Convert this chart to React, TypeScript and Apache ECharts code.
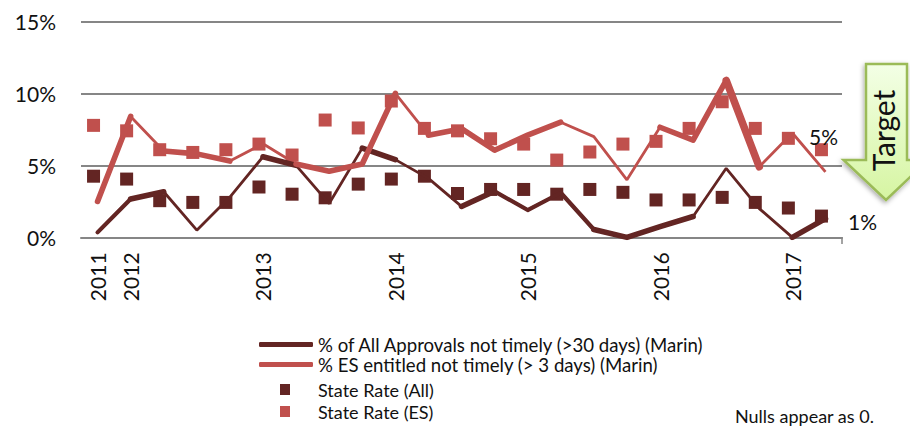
import React, { useEffect, useRef } from "react";
import * as echarts from "echarts";

const categories = ["2011","2012","","","","2013","","","","2014","","","","2015","","","","2016","","","","2017",""];
const tickLabels = [0, 5, 10, 15];
const allMarin = [0.35,2.66,3.17,0.5,2.8,5.6,5.0,2.35,6.2,5.4,4.1,2.15,3.2,1.9,3.1,0.55,0,0.75,1.45,4.8,2.0,0,1.3];
const esMarin = [2.5,8.4,6.0,5.8,5.3,6.5,5.1,4.6,5.1,10.0,7.1,7.55,6.05,7.1,8.0,7.0,4.0,7.65,6.75,10.9,4.9,7.25,4.55];
const stateAll = [4.25,4.05,2.55,2.43,2.43,3.5,3.0,2.75,3.7,4.05,4.25,3.05,3.33,3.33,3.0,3.33,3.13,2.6,2.6,2.78,2.43,2.04,1.48];
const stateEs = [7.78,7.4,6.09,5.9,6.09,6.48,5.72,8.15,7.6,9.47,7.57,7.4,6.85,6.48,5.37,5.93,6.48,6.67,7.57,9.42,7.57,6.88,6.09];
const allThickRuns = [[1,2],[5,6],[8,9],[11,12],[15,18],[21,22]];
const allMediumRuns = [[0,1],[12,15]];
const esThickRuns = [[0,1],[2,4],[6,9],[10,14],[17,20]];
const esHeavyRuns = [[19,20]];

const DARK = "#632523";
const RED = "#C0504D";
const GRID = "#868686";
const FONT = "Lato";
const NAME_ALL = "% of All Approvals not timely (>30 days) (Marin)";
const NAME_ES = "% ES entitled not timely (> 3 days) (Marin)";
const NAME_SA = "State Rate (All)";
const NAME_SE = "State Rate (ES)";

function runSeries(values: number[], runs: number[][], color: string, width: number) {
  return runs.map(([a, b]) => ({
    type: "line",
    silent: true,
    symbol: "none",
    z: 4,
    data: values.map((v, i) => (i >= a && i <= b ? v : null)),
    lineStyle: { color, width, cap: "round", join: "round" },
  }));
}

function lastLabelled(values: number[], text: string, offset: number[]) {
  return values.map((v, i) =>
    i === values.length - 1
      ? { value: v, label: { show: true, formatter: text, position: "inside", offset, fontSize: 21, fontFamily: FONT, color: "#111" } }
      : v
  );
}

export default function App() {
  const ref = useRef<HTMLDivElement>(null);
  useEffect(() => {
    const chart = echarts.init(ref.current!, undefined, { renderer: "svg" });
    chart.setOption({
      animation: false,
      backgroundColor: "#fff",
      grid: { left: 81, right: 68, top: 21.4, bottom: 427 - 237.4, containLabel: false },
      legend: [
        {
          data: [NAME_ALL, NAME_ES],
          orient: "vertical",
          left: 259,
          top: 335,
          padding: 0,
          itemWidth: 54,
          itemHeight: 5,
          itemGap: 1,
          icon: "roundRect",
          textStyle: { fontFamily: FONT, fontSize: 18.6, color: "#111", lineHeight: 19, height: 19 },
        },
        {
          data: [NAME_SA, NAME_SE],
          orient: "vertical",
          left: 280,
          top: 380,
          padding: 0,
          height: 44,
          itemWidth: 10,
          itemHeight: 11,
          itemGap: 3,
          icon: "rect",
          textStyle: { fontFamily: FONT, fontSize: 18, color: "#111", padding: [0, 0, 0, 23], lineHeight: 19, height: 19 },
        },
      ],
      xAxis: {
        type: "category",
        data: categories,
        boundaryGap: true,
        axisLine: { lineStyle: { color: GRID, width: 2 } },
        axisTick: { alignWithLabel: true, interval: 0, length: 7, lineStyle: { color: GRID, width: 1.5 } },
        axisLabel: { interval: 0, rotate: 90, margin: 15, fontSize: 21, fontFamily: FONT, color: "#111", padding: [0, 0, 4, 0] },
      },
      yAxis: {
        type: "value",
        min: tickLabels[0],
        max: tickLabels[3],
        interval: 5,
        axisLine: { show: false },
        axisTick: { show: false },
        axisLabel: { formatter: "{value}%", margin: 25, fontSize: 21, fontFamily: FONT, color: "#111", padding: [0, 0, 3, 0] },
        splitLine: { lineStyle: { color: GRID, width: 2 } },
      },
      series: [
        { type: "scatter", name: NAME_SA, data: stateAll, symbol: "rect", symbolSize: 13, symbolOffset: [-4, 0], z: 2, itemStyle: { color: DARK, opacity: 1 } },
        { type: "scatter", name: NAME_SE, data: stateEs, symbol: "rect", symbolSize: 13, symbolOffset: [-4, 0], z: 2, itemStyle: { color: RED, opacity: 1 } },
        {
          type: "line", name: NAME_ALL, data: lastLabelled(allMarin, "1%", [37, 3]), symbol: "circle", symbolSize: 0, showSymbol: true, z: 3,
          lineStyle: { color: DARK, width: 2.8 }, itemStyle: { color: DARK },
        },
        {
          type: "line", name: NAME_ES, data: lastLabelled(esMarin, "5%", [-2, -35]), symbol: "circle", symbolSize: 0, showSymbol: true, z: 3,
          lineStyle: { color: RED, width: 2.8 }, itemStyle: { color: RED },
        },
        ...runSeries(allMarin, allThickRuns, DARK, 5.6),
        ...runSeries(allMarin, allMediumRuns, DARK, 4.2),
        ...runSeries(esMarin, esThickRuns, RED, 5.6),
        ...runSeries(esMarin, esHeavyRuns, RED, 7.5),
      ],
      graphic: [
        { type: "line", shape: { x1: 842, y1: 237, x2: 842, y2: 244 }, style: { stroke: GRID, lineWidth: 1.5 } },
        {
          type: "polygon",
          z: 10,
          shape: { points: [[866, 64], [907, 64], [907, 160], [928, 160], [886, 200], [843.5, 160], [866, 160]] },
          style: {
            fill: new echarts.graphic.LinearGradient(0, 0, 0, 1, [
              { offset: 0, color: "#F3FFE6" },
              { offset: 1, color: "#D6F5A2" },
            ]),
            stroke: "#9BBB59",
            lineWidth: 2.5,
            shadowBlur: 5,
            shadowColor: "rgba(0,0,0,0.35)",
            shadowOffsetX: -1,
            shadowOffsetY: 2,
          },
        },
        {
          type: "text",
          z: 11,
          x: 883,
          y: 130.5,
          rotation: Math.PI / 2,
          style: { text: "Target", fontFamily: FONT, fontSize: 30, fill: "#111", align: "center", verticalAlign: "middle" },
        },
        {
          type: "text",
          x: 735,
          y: 416,
          style: { text: "Nulls appear as 0.", fontFamily: FONT, fontSize: 18, fill: "#111", align: "left", verticalAlign: "middle" },
        },
      ],
    });
    return () => chart.dispose();
  }, []);
  return <div ref={ref} style={{ position: "fixed", left: 0, top: 0, width: 910, height: 427 }} />;
}
